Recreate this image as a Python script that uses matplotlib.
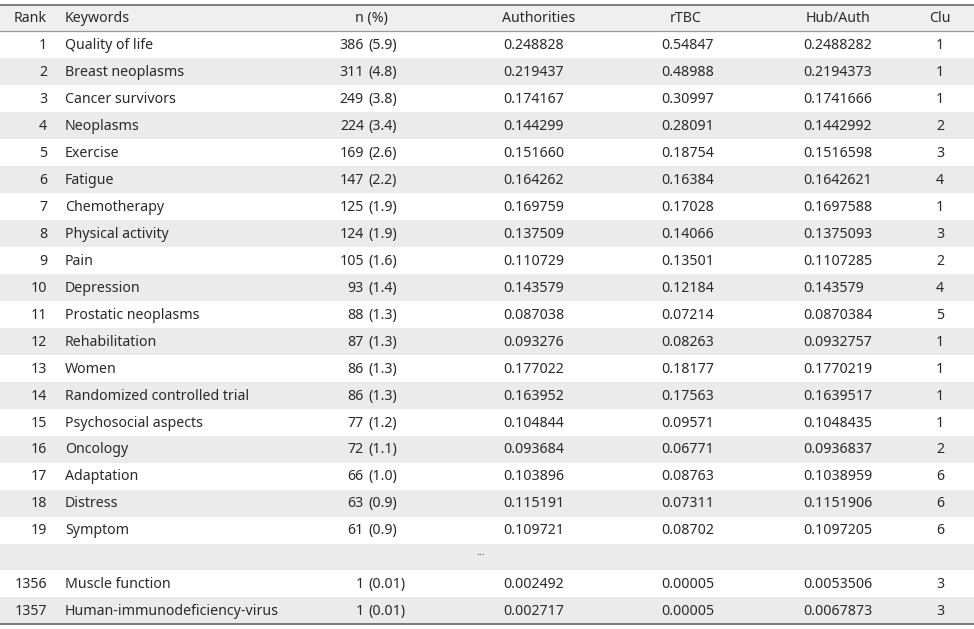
import matplotlib
matplotlib.use("Agg")
import matplotlib.pyplot as plt

headers = ["Rank", "Keywords", "n (%)", "Authorities", "rTBC", "Hub/Auth", "Clu"]
ranks = ["1", "2", "3", "4", "5", "6", "7", "8", "9", "10", "11", "12", "13", "14", "15",
         "16", "17", "18", "19", "", "1356", "1357"]
keywords = ["Quality of life", "Breast neoplasms", "Cancer survivors", "Neoplasms", "Exercise",
            "Fatigue", "Chemotherapy", "Physical activity", "Pain", "Depression",
            "Prostatic neoplasms", "Rehabilitation", "Women", "Randomized controlled trial",
            "Psychosocial aspects", "Oncology", "Adaptation", "Distress", "Symptom", "",
            "Muscle function", "Human-immunodeficiency-virus"]
n_counts = ["386", "311", "249", "224", "169", "147", "125", "124", "105", "93", "88", "87",
            "86", "86", "77", "72", "66", "63", "61", "", "1", "1"]
n_pct = ["(5.9)", "(4.8)", "(3.8)", "(3.4)", "(2.6)", "(2.2)", "(1.9)", "(1.9)", "(1.6)",
         "(1.4)", "(1.3)", "(1.3)", "(1.3)", "(1.3)", "(1.2)", "(1.1)", "(1.0)", "(0.9)",
         "(0.9)", "", "(0.01)", "(0.01)"]
authorities = ["0.248828", "0.219437", "0.174167", "0.144299", "0.151660", "0.164262",
               "0.169759", "0.137509", "0.110729", "0.143579", "0.087038", "0.093276",
               "0.177022", "0.163952", "0.104844", "0.093684", "0.103896", "0.115191",
               "0.109721", "...", "0.002492", "0.002717"]
rtbc = ["0.54847", "0.48988", "0.30997", "0.28091", "0.18754", "0.16384", "0.17028",
        "0.14066", "0.13501", "0.12184", "0.07214", "0.08263", "0.18177", "0.17563",
        "0.09571", "0.06771", "0.08763", "0.07311", "0.08702", "", "0.00005", "0.00005"]
hub_auth = ["0.2488282", "0.2194373", "0.1741666", "0.1442992", "0.1516598", "0.1642621",
            "0.1697588", "0.1375093", "0.1107285", "0.143579", "0.0870384", "0.0932757",
            "0.1770219", "0.1639517", "0.1048435", "0.0936837", "0.1038959", "0.1151906",
            "0.1097205", "", "0.0053506", "0.0067873"]
clusters = ["1", "1", "1", "2", "3", "4", "1", "3", "2", "4", "5", "1", "1", "1", "1", "2",
            "6", "6", "6", "", "3", "3"]

W, H = 974, 629
fig = plt.figure(figsize=(W / 100, H / 100), dpi=100)
ax = fig.add_axes([0, 0, 1, 1])
ax.set_xlim(0, W)
ax.set_ylim(H, 0)
ax.axis("off")

FONT = "Noto Sans"
FS = 10.2
TXT = "#2a2a2a"
SHADE = "#ebebeb"

top = 4.5
row_h = 26.95
header_bottom = top + row_h
n_rows = len(ranks)
bottom = header_bottom + n_rows * row_h

# header background
ax.fill_between([0, W], top, header_bottom, color="#efefef", lw=0)
# row shading
for i in range(n_rows):
    if i % 2 == 1:
        y0 = header_bottom + i * row_h
        ax.fill_between([0, W], y0, y0 + row_h, color=SHADE, lw=0)

ax.plot([0, W], [top, top], color="#666666", lw=1.2)
ax.plot([0, W], [header_bottom, header_bottom], color="#999999", lw=0.9)
ax.plot([0, W], [bottom, bottom], color="#666666", lw=1.2)

def t(x, y, s, ha):
    ax.text(x, y, s, ha=ha, va="center", fontsize=FS, family=FONT, color=TXT)

dy = 0.8
hy = (top + header_bottom) / 2 + dy
t(47, hy, headers[0], "right")
t(65, hy, headers[1], "left")
t(371, hy, headers[2], "center")
t(539, hy, headers[3], "center")
t(686, hy, headers[4], "center")
t(838, hy, headers[5], "center")
t(940, hy, headers[6], "center")

for i in range(n_rows):
    y = header_bottom + (i + 0.5) * row_h + dy
    t(47, y, ranks[i], "right")
    t(65, y, keywords[i], "left")
    t(364, y, n_counts[i], "right")
    t(368, y, n_pct[i], "left")
    if authorities[i] == "...":
        ax.text(481, y - 5, "...", ha="center", va="center", fontsize=8, family=FONT, color="#555555")
    else:
        t(503, y, authorities[i], "left")
    t(661, y, rtbc[i], "left")
    t(803, y, hub_auth[i], "left")
    t(940, y, clusters[i], "center")

fig.savefig("out.png", dpi=100)
